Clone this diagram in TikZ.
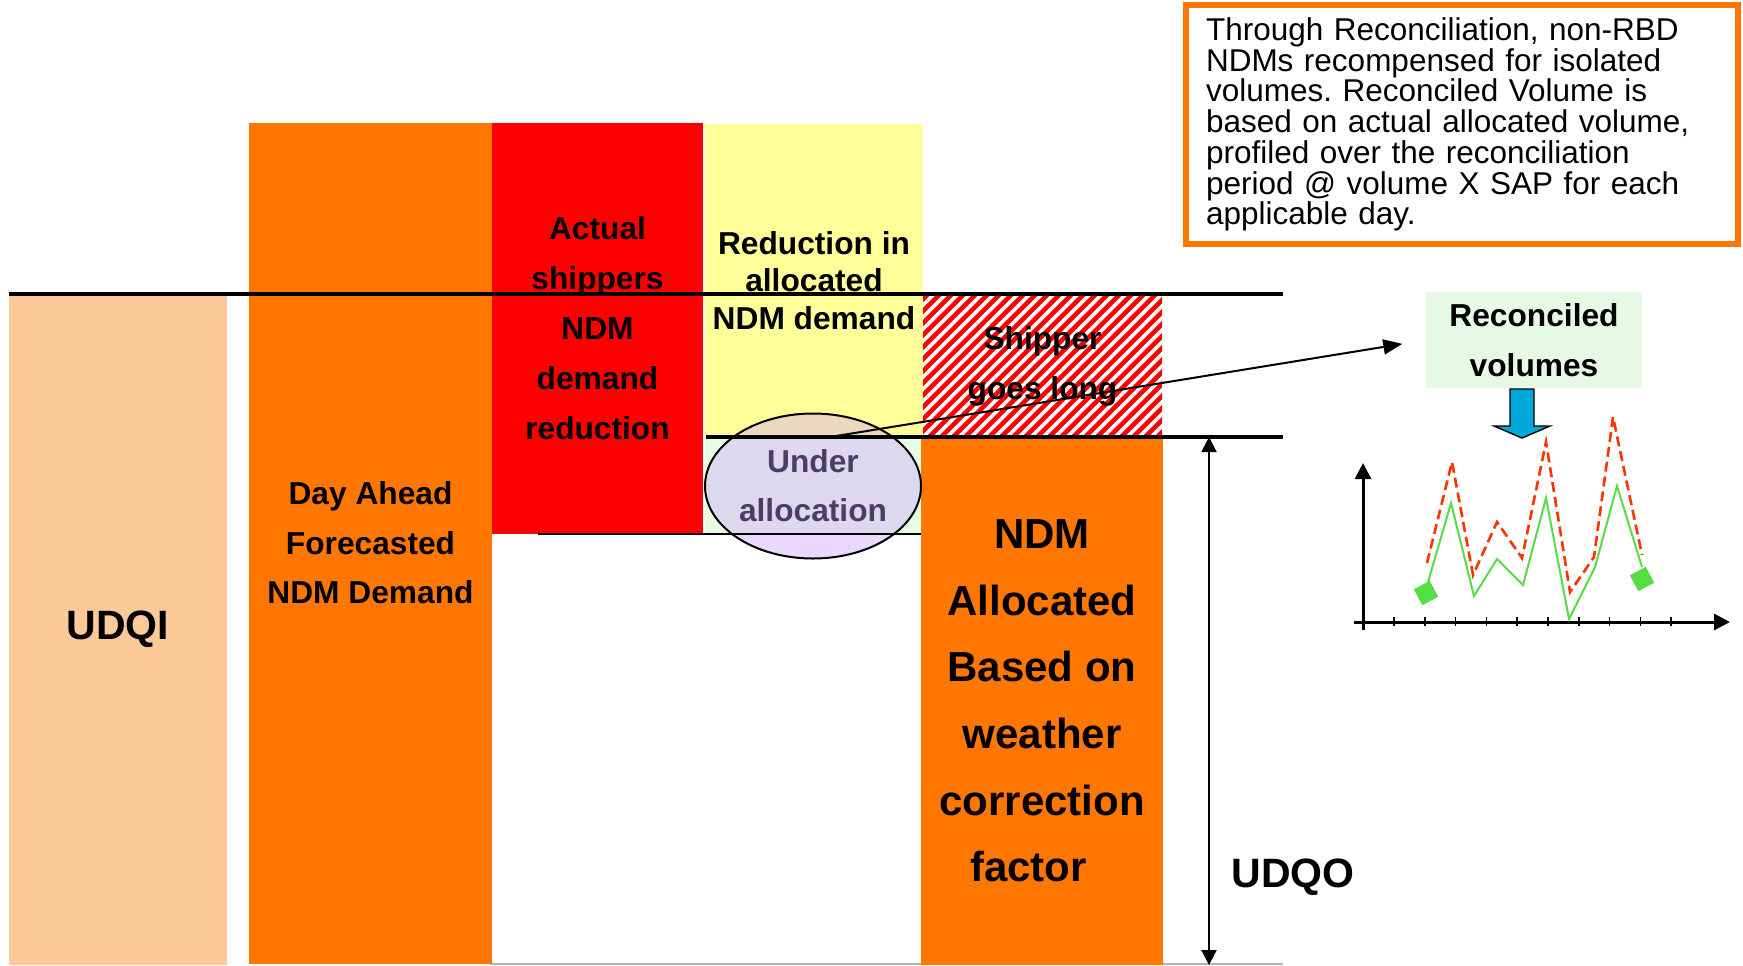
\documentclass[tikz,border=0pt]{standalone}
\usepackage{fontspec}
\setmainfont{Liberation Sans}
\usetikzlibrary{arrows.meta,shapes.geometric}
\frenchspacing
\definecolor{peach}{HTML}{FDC999}
\definecolor{ndmorange}{HTML}{FF7700}
\definecolor{paleyellow}{HTML}{FFFF99}
\definecolor{palegreen}{HTML}{E6FFE3}
\definecolor{mintbox}{HTML}{E5F9E5}
\definecolor{lilac}{HTML}{CC99FF}
\definecolor{plum}{HTML}{4D3D66}
\definecolor{cyanblue}{HTML}{00A8D8}
\definecolor{chartgreen}{HTML}{55DD44}
\definecolor{chartred}{HTML}{FF3300}
\begin{document}
\begin{tikzpicture}[x=0.5pt,y=-0.5pt,
  bar/.style={rectangle, inner sep=0pt, outer sep=0pt, align=center},
  rule/.style={line width=1.6pt},
  conn/.style={line width=1pt, -{Triangle[length=9.5pt,width=7.5pt]}},
  dim/.style={line width=1pt, {Triangle[length=7.5pt,width=7.5pt]}-{Triangle[length=7.5pt,width=7.5pt]}},
  axis/.style={line width=1.5pt, -{Triangle[length=8pt,width=8pt]}},
  tick/.style={line width=0.8pt},
  marker/.style={fill=chartgreen, minimum size=9pt, inner sep=0pt, rotate=28},
]
\useasboundingbox (0,0) rectangle (1743,965);

% base line along the bottom
\draw[gray!60, line width=0.7pt] (490,964) -- (1283,964);

% --- demand bars ---
\node[bar, fill=peach, minimum width=109pt, minimum height=336pt,
      font=\bfseries\fontsize{20.5pt}{24pt}\selectfont] (udqi) at (118,629) {UDQI};
\node[bar, fill=ndmorange, minimum width=121.5pt, minimum height=420.5pt,
      font=\bfseries\fontsize{15.85pt}{24.75pt}\selectfont] (dayahead) at (370.5,543)
      {Day Ahead\\Forecasted\\NDM Demand};
\node[bar, fill=red, minimum width=105.5pt, minimum height=205.5pt,
      font=\bfseries\fontsize{15.85pt}{25pt}\selectfont] (actual) at (597.5,328.5)
      {Actual\\shippers\\NDM\\demand\\reduction};
\node[bar, fill=paleyellow, minimum width=109pt, minimum height=156.5pt,
      font=\bfseries\fontsize{15.85pt}{18.75pt}\selectfont] (reduct) at (814,280.5)
      {Reduction in\\allocated\\NDM demand};
\fill[palegreen] (705,437) rectangle (921,533);

% red/white diagonal hatching
\begin{scope}
  \clip (923,295) rectangle (1162,437);
  \foreach \k in {0,...,33}
    \draw[red, line width=2.3pt] (763+\k*12,447) -- (933+\k*12,277);
\end{scope}
\node[bar, minimum width=119.5pt, minimum height=71pt,
      font=\bfseries\fontsize{15.85pt}{25pt}\selectfont] (long) at (1042.5,366)
      {Shipper\\goes long};

\node[bar, fill=ndmorange, minimum width=121pt, minimum height=264pt,
      font=\bfseries\fontsize{21pt}{33.3pt}\selectfont] (alloc) at (1042,701)
      {NDM\\Allocated\\Based on\hspace*{0.3em}\\weather\hspace*{0.3em}\\correction\hspace*{0.3em}\\factor\hspace*{0.65em}};

\node[ellipse, draw=black, line width=1pt, fill=lilac, fill opacity=0.38, text opacity=1,
      text=plum, minimum width=108pt, minimum height=72.5pt, inner sep=0pt, align=center,
      font=\bfseries\fontsize{15.85pt}{24.5pt}\selectfont] (under) at (813,486)
      {Under\\allocation};

% --- level lines ---
\draw[rule] (9,294) -- (1283,294);
\draw[rule] (706,437) -- (1283,437);
\draw[line width=1pt] (538,534) -- (921,534);

% --- reconciled volumes ---
\node[bar, fill=mintbox, minimum width=108pt, minimum height=48pt,
      font=\bfseries\fontsize{15.85pt}{25pt}\selectfont] (rv) at (1534,340)
      {Reconciled\\volumes};
\coordinate (ua) at (830,437);
\draw[conn, shorten >=12pt] (ua) -- (rv.west);

% UDQO span
\coordinate (dtop) at (1209,437);
\coordinate (dbot) at (1209,965);
\draw[dim] (dtop) -- (dbot);
\node[font=\bfseries\fontsize{20.5pt}{24pt}\selectfont, inner sep=0pt] (udqo) at (1293,877) {UDQO};

% --- note ---
\node[draw=ndmorange, line width=2.75pt, minimum width=276pt, minimum height=119.5pt,
      text width=256pt, inner xsep=10pt, inner ysep=0pt, align=left,
      font=\fontsize{15.75pt}{15.35pt}\selectfont] (info) at (1462,124.5)
      {Through Reconciliation, non-RBD\\NDMs recompensed for isolated\\volumes. Reconciled Volume is\\based on actual allocated volume,\\profiled over the reconciliation\\period @ volume X SAP for each\\applicable day.};

% block arrow
\draw[fill=cyanblue, line width=0.7pt] (1510,389) -- (1534,389) -- (1534,426) -- (1550,426)
  -- (1522,438) -- (1494,426) -- (1510,426) -- cycle;

% --- small chart ---
\draw[axis] (1363,630) -- (1363,463);
\draw[axis] (1354,622) -- (1730,622);
\foreach \i in {0,...,9}
  \draw[tick] (1394+\i*30.8,617) -- (1394+\i*30.8,626);
\draw[chartred, line width=1.3pt, dash pattern=on 5pt off 2.5pt]
  (1427,563) -- (1452,462) -- (1473,575) -- (1497,522) -- (1522,558) -- (1546,442)
  -- (1570,592) -- (1594,557) -- (1613,417) -- (1642,555);
\draw[chartgreen, line width=1pt]
  (1428,582) -- (1451,503) -- (1474,596) -- (1497,559) -- (1523,585) -- (1546,498)
  -- (1569,619) -- (1595,567) -- (1617,486) -- (1642,567);
\node[marker] (m1) at (1426,593) {};
\node[marker] (m2) at (1642,579) {};
\end{tikzpicture}
\end{document}
